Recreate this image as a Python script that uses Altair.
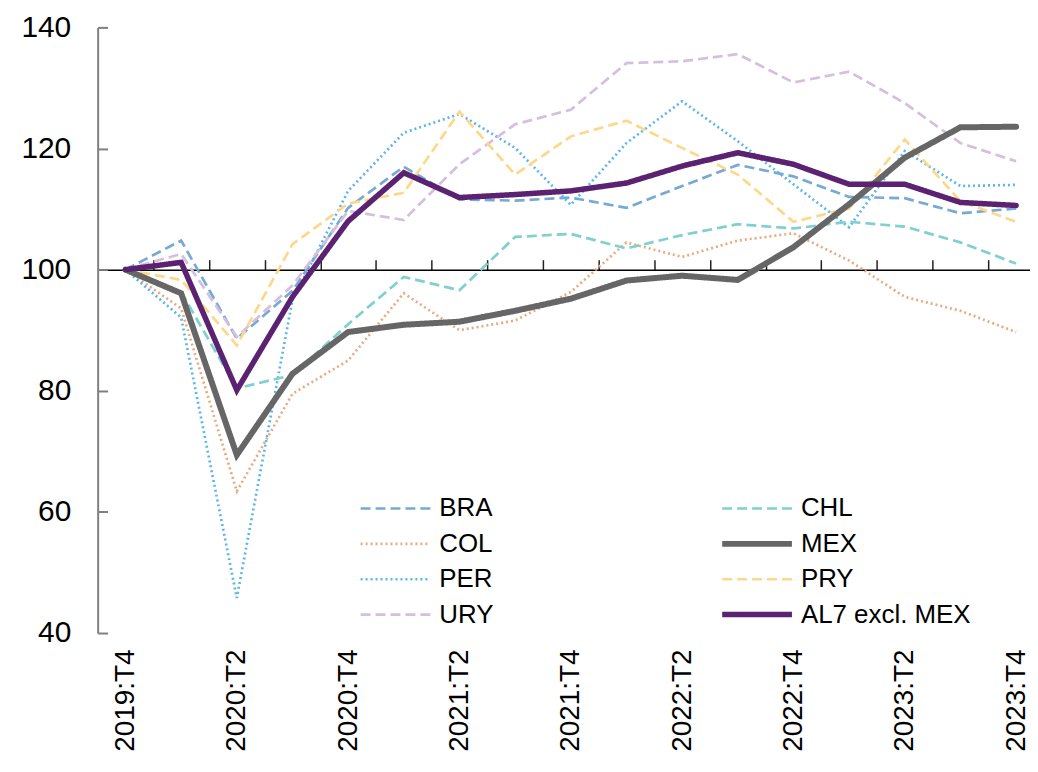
import altair as alt
import pandas as pd

quarters = ["2019:T4", "2020:T1", "2020:T2", "2020:T3", "2020:T4", "2021:T1",
            "2021:T2", "2021:T3", "2021:T4", "2022:T1", "2022:T2", "2022:T3",
            "2022:T4", "2023:T1", "2023:T2", "2023:T3", "2023:T4"]

bra = [100, 104.8, 88.6, 96.5, 110.2, 117.0, 111.6, 111.4, 111.9, 110.2, 113.8, 117.3, 115.4, 112.0, 111.8, 109.3, 110.1]
chl = [100, 96.3, 80.4, 82.6, 91.0, 98.8, 96.6, 105.4, 105.9, 103.5, 105.7, 107.5, 106.8, 107.9, 107.1, 104.5, 101.0]
col = [100, 93.6, 63.4, 79.5, 85.0, 96.1, 90.0, 91.6, 96.3, 104.5, 102.1, 104.8, 106.0, 101.5, 95.5, 93.2, 89.7]
mex = [100, 96.1, 69.4, 82.8, 89.7, 90.9, 91.4, 93.2, 95.2, 98.2, 99.0, 98.3, 103.7, 110.8, 118.5, 123.5, 123.6]
per = [100, 92.1, 45.8, 95.0, 113.0, 122.6, 125.7, 120.1, 110.7, 120.9, 127.8, 121.2, 114.1, 107.0, 119.6, 113.8, 114.0]
pry = [100, 98.3, 87.5, 104.2, 110.9, 112.7, 126.1, 115.7, 122.0, 124.6, 120.1, 115.7, 107.9, 110.1, 121.5, 111.3, 107.9]
ury = [100, 102.6, 88.9, 97.4, 109.7, 108.2, 117.4, 124.0, 126.4, 134.1, 134.4, 135.6, 130.9, 132.7, 127.5, 120.9, 117.9]
al7 = [100, 101.2, 80.1, 95.5, 108.0, 116.0, 111.9, 112.4, 113.0, 114.3, 117.1, 119.3, 117.4, 114.1, 114.1, 111.1, 110.6]

# legend order is column-major: first column BRA, COL, PER, URY; second column CHL, MEX, PRY, AL7
series_names = ["BRA", "COL", "PER", "URY", "CHL", "MEX", "PRY", "AL7 excl. MEX"]
series_values = [bra, col, per, ury, chl, mex, pry, al7]
series_colors = ["#76aad3", "#e8aa80", "#5db6ea", "#d5bedf", "#7fd0cf", "#666666", "#fdd88a", "#5b2271"]
series_dashes = [[10, 5], [2, 3], [2, 3], [10, 5], [10, 5], [1, 0], [10, 5], [1, 0]]
series_widths = [2.7, 2.7, 2.7, 2.7, 2.7, 6, 2.7, 5.5]

y_ticks = [40, 60, 80, 100, 120, 140]

rows = []
for name, vals in zip(series_names, series_values):
    for i, (q, v) in enumerate(zip(quarters, vals)):
        rows.append({"serie": name, "i": i, "quarter": q, "value": v})
df = pd.DataFrame(rows)

FONT = "Liberation Sans"
W = 936
H = 608
px_per_unit = H / (140 - 40)
label_expr = "[" + ",".join("'%s'" % q for q in quarters) + "][datum.value]"

xscale = alt.Scale(domain=[-0.5, 16.25], nice=False, zero=False)
yscale = alt.Scale(domain=[40, 140], nice=False, zero=False)

color_enc = alt.Color("serie:N", scale=alt.Scale(domain=series_names, range=series_colors),
                      legend=alt.Legend(orient="none", legendX=261, legendY=470, columns=2,
                                        columnPadding=226, rowPadding=9.5,
                                        symbolType="stroke", symbolSize=4900,
                                        labelFontSize=26, labelFont=FONT, labelColor="black",
                                        labelOffset=6, labelLimit=400, title=None,
                                        clipHeight=26))
dash_enc = alt.StrokeDash("serie:N", scale=alt.Scale(domain=series_names, range=series_dashes))
width_enc = alt.StrokeWidth("serie:N", scale=alt.Scale(type="ordinal", domain=series_names,
                                                       range=series_widths))

thin = alt.Chart(df).transform_filter(
    "datum.serie != 'MEX' && datum.serie != 'AL7 excl. MEX'"
).mark_line().encode(
    x=alt.X("i:Q", scale=xscale,
            axis=alt.Axis(values=list(range(0, 17, 2)), labelExpr=label_expr, labelAngle=-90,
                          labelFontSize=28, labelFont=FONT, labelColor="black",
                          ticks=False, domain=False, grid=False, labelPadding=16, title=None)),
    y=alt.Y("value:Q", scale=yscale,
            axis=alt.Axis(values=y_ticks, ticks=False, labelPadding=27, labelFontSize=30,
                          labelFont=FONT, labelColor="black", domainColor="#808080",
                          domainWidth=2, grid=False, title=None)),
    color=color_enc, strokeDash=dash_enc, strokeWidth=width_enc,
)

mex_layer = alt.Chart(df).transform_filter("datum.serie == 'MEX'").mark_line(strokeCap="round").encode(
    x=alt.X("i:Q", scale=xscale,
            axis=alt.Axis(orient="top", offset=-(140 - 100) * px_per_unit,
                          values=[k + 0.5 for k in range(16)], labels=False,
                          domainColor="black", domainWidth=1.5, tickColor="#222222",
                          tickWidth=1.5, tickSize=10, grid=False, title=None)),
    y=alt.Y("value:Q", scale=yscale,
            axis=alt.Axis(orient="right", offset=-W, values=y_ticks, labels=False,
                          domain=False, tickColor="#808080", tickWidth=2, tickSize=10,
                          grid=False, title=None)),
    color=color_enc, strokeDash=dash_enc, strokeWidth=width_enc,
)

al7_layer = alt.Chart(df).transform_filter("datum.serie == 'AL7 excl. MEX'").mark_line(strokeCap="round").encode(
    x=alt.X("i:Q", scale=xscale, axis=None),
    y=alt.Y("value:Q", scale=yscale, axis=None),
    color=color_enc, strokeDash=dash_enc, strokeWidth=width_enc,
)

chart = alt.layer(thin, mex_layer, al7_layer).resolve_axis(
    x="independent", y="independent"
).properties(
    width=W, height=H,
    autosize=alt.AutoSizeParams(type="none"),
    padding={"left": 90, "top": 18, "right": 0, "bottom": 124},
).configure_view(stroke=None)

chart.save("out.html", embed_options={"renderer": "svg", "actions": False})
